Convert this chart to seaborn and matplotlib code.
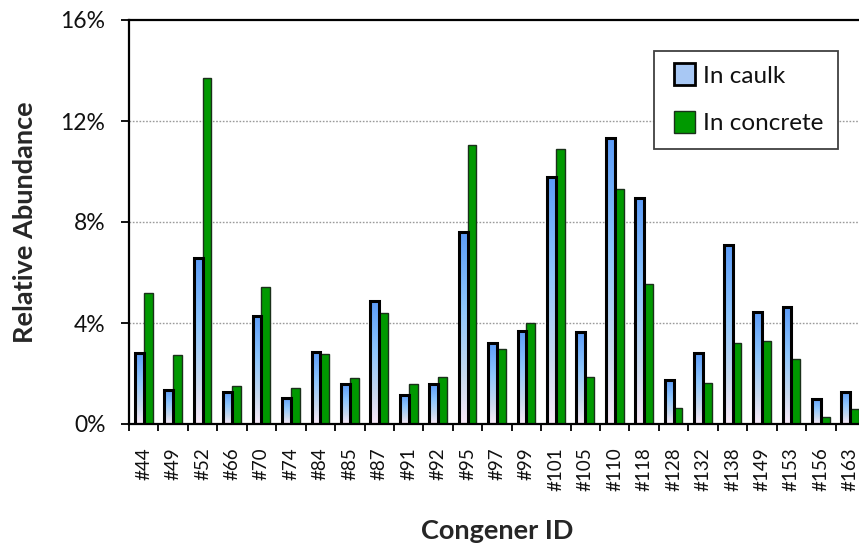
import numpy as np
import pandas as pd
import matplotlib
matplotlib.use("Agg")
import matplotlib.pyplot as plt
from matplotlib.colors import LinearSegmentedColormap
from matplotlib.patches import Rectangle, Patch
from matplotlib.legend_handler import HandlerPatch
from matplotlib.ticker import FixedLocator, FuncFormatter
import seaborn as sns

# PCB congener relative abundance (%)
congeners = ["#44", "#49", "#52", "#66", "#70", "#74", "#84", "#85", "#87", "#91",
             "#92", "#95", "#97", "#99", "#101", "#105", "#110", "#118", "#128",
             "#132", "#138", "#149", "#153", "#156", "#163"]
in_caulk = [2.82, 1.35, 6.56, 1.25, 4.28, 1.04, 2.84, 1.58, 4.87, 1.15,
            1.58, 7.62, 3.22, 3.70, 9.77, 3.66, 11.31, 8.96, 1.74,
            2.80, 7.08, 4.45, 4.62, 1.00, 1.27]
in_concrete = [5.20, 2.73, 13.69, 1.50, 5.44, 1.44, 2.79, 1.81, 4.38, 1.57,
               1.85, 11.05, 2.98, 3.99, 10.88, 1.87, 9.30, 5.56, 0.62,
               1.63, 3.19, 3.30, 2.56, 0.29, 0.58]
series_names = ["In caulk", "In concrete"]
y_ticks = [0, 4, 8, 12, 16]

df = pd.DataFrame({
    "Congener": congeners * 2,
    "Sample": [series_names[0]] * len(congeners) + [series_names[1]] * len(congeners),
    "Abundance": in_caulk + in_concrete,
})

sns.set_theme(style="white")
plt.rcParams["font.family"] = ["Lato", "DejaVu Sans"]

fig = plt.figure(figsize=(8.59, 5.44), dpi=100)
ax = fig.add_axes([129 / 859, 1 - 424 / 544, 736 / 859, 404 / 544])

green = "#009900"
sns.barplot(data=df, x="Congener", y="Abundance", hue="Sample",
            palette=["#8cc4fc", green], saturation=1, width=0.6, gap=0,
            errorbar=None, legend=False, ax=ax, zorder=2)

# blue-to-lavender vertical gradient for the caulk bars
grad_cmap = LinearSegmentedColormap.from_list(
    "caulk", [(0.0, "#5c9cf8"), (0.4, "#8ec6fd"), (0.75, "#c8d9ee"), (1.0, "#faeaf8")])
grad = np.linspace(0, 1, 256).reshape(-1, 1)

for bar in ax.containers[0]:
    x, w, h = bar.get_x(), bar.get_width(), bar.get_height()
    im = ax.imshow(grad, cmap=grad_cmap, extent=[x, x + w, 0, h],
                   origin="upper", aspect="auto", zorder=1.9, interpolation="bilinear")
    im.set_clip_path(bar)
    bar.set_facecolor("none")
    bar.set_edgecolor("black")
    bar.set_linewidth(2.2)
    bar.set_zorder(2.1)

for bar in ax.containers[1]:
    bar.set_edgecolor("#1a301a")
    bar.set_linewidth(1.0)
    bar.set_zorder(2)

ax.set_xlim(-0.5, len(congeners) - 0.5)
ax.set_ylim(0, 16)

# y axis
ax.yaxis.set_major_locator(FixedLocator(y_ticks))
ax.yaxis.set_major_formatter(FuncFormatter(lambda v, p: f"{v:.0f}%"))
ax.tick_params(axis="y", which="major", direction="out", length=6, width=1.3,
               color="black", pad=11, labelsize=16.5, labelcolor="#111111", left=True)
for gy in y_ticks[1:-1]:
    ax.axhline(gy, color="#9a9a9a", linestyle=(0, (1.2, 1.2)), linewidth=1.0, zorder=0.5)

# x axis: labels at category centres, tick marks at boundaries
ax.set_xticks(range(len(congeners)))
ax.set_xticklabels(congeners, rotation=90)
ax.set_xticks(np.arange(-0.5, len(congeners)), minor=True)
ax.tick_params(axis="x", which="major", length=0, pad=17, labelsize=13.5,
               labelcolor="#111111")
ax.tick_params(axis="x", which="minor", direction="out", length=5, width=1.3,
               color="black", bottom=True)

for side in ["left", "bottom", "top"]:
    ax.spines[side].set_visible(True)
    ax.spines[side].set_color("black")
    ax.spines[side].set_linewidth(1.6)
ax.spines["right"].set_visible(False)

ax.set_xlabel("Congener ID", fontsize=19.5, fontweight="bold", labelpad=20)
ax.set_ylabel("Relative Abundance", fontsize=19.5, fontweight="bold", labelpad=17)


def square_handle(legend, orig_handle, xdescent, ydescent, width, height, fontsize):
    s = 0.64 * fontsize * 100 / 72
    return Rectangle((-xdescent + width - s, -ydescent + (height - s) / 2), s, s)


handles = [Patch(facecolor="#a8c8f4", edgecolor="black", linewidth=2.0),
           Patch(facecolor=green, edgecolor="#1a301a", linewidth=1.0)]
leg = ax.legend(handles, series_names, loc="upper left",
                bbox_to_anchor=(0.7133, 0.923), fontsize=17.5, frameon=True,
                fancybox=False, framealpha=1, edgecolor="#404040",
                handlelength=1.1, handleheight=0.7, handletextpad=0.3,
                labelspacing=1.1, borderpad=0.6, borderaxespad=0,
                handler_map={Patch: HandlerPatch(patch_func=square_handle)})
leg.get_frame().set_linewidth(1.3)
for t in leg.get_texts():
    t.set_color("#111111")

fig.savefig("out.png", dpi=100)
